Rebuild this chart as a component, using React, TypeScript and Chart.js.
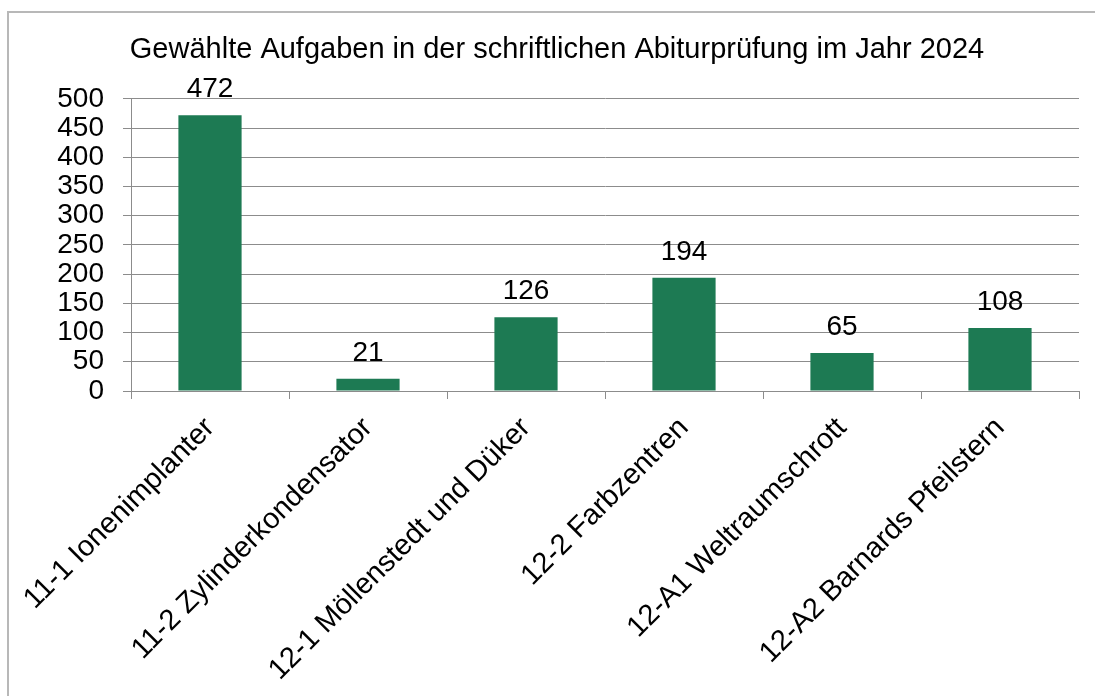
import React, { useEffect, useRef } from "react";
import { Chart, registerables } from "chart.js";

Chart.register(...registerables);

const categories: string[] = [
  "11-1 Ionenimplanter",
  "11-2 Zylinderkondensator",
  "12-1 Möllenstedt und Düker",
  "12-2 Farbzentren",
  "12-A1 Weltraumschrott",
  "12-A2 Barnards Pfeilstern",
];
const values: number[] = [472, 21, 126, 194, 65, 108];
const titleText = "Gewählte Aufgaben in der schriftlichen Abiturprüfung im Jahr 2024";
const yMin = 0;
const yMax = 500;
const yStep = 50;

const FONT = 'Arial, "Liberation Sans", sans-serif';
const BAR_COLOR = "#1d7a53";
const GRID_COLOR = "#8c8c8c";

const valueLabels = {
  id: "valueLabels",
  afterDatasetsDraw(chart: any) {
    const ctx = chart.ctx;
    const meta = chart.getDatasetMeta(0);
    ctx.save();
    ctx.font = `28px ${FONT}`;
    ctx.fillStyle = "#000";
    ctx.textAlign = "center";
    ctx.textBaseline = "alphabetic";
    meta.data.forEach((bar: any, i: number) => {
      ctx.fillText(String(values[i]), bar.x, bar.y - 18);
    });
    ctx.restore();
  },
};

export default function App() {
  const ref = useRef<HTMLCanvasElement | null>(null);

  useEffect(() => {
    if (!ref.current) return;
    const chart = new Chart(ref.current, {
      type: "bar",
      data: {
        labels: categories,
        datasets: [
          {
            data: values,
            backgroundColor: BAR_COLOR,
            borderWidth: 0,
            categoryPercentage: 1,
            barPercentage: 0.4,
          },
        ],
      },
      options: {
        responsive: false,
        animation: false,
        layout: { padding: { left: 35, right: 16, top: 0, bottom: 0 } },
        plugins: {
          legend: { display: false },
          tooltip: { enabled: false },
          title: {
            display: true,
            text: titleText,
            color: "#000",
            font: { family: FONT, size: 29, weight: "normal" },
            padding: { top: 33, bottom: 31 },
          },
        },
        scales: {
          x: {
            offset: true,
            grid: {
              offset: true,
              drawOnChartArea: false,
              drawTicks: true,
              tickLength: 8,
              color: GRID_COLOR,
            },
            border: { display: true, color: GRID_COLOR, width: 1 },
            ticks: {
              color: "#000",
              font: { family: FONT, size: 29 },
              minRotation: 45,
              maxRotation: 45,
              autoSkip: false,
              padding: 12,
            },
            afterFit(scale: any) {
              scale.height = 305;
              scale.paddingLeft = 0;
              scale.paddingRight = 0;
            },
          },
          y: {
            min: yMin,
            max: yMax,
            grid: {
              color: GRID_COLOR,
              drawTicks: true,
              tickLength: 8,
            },
            border: { display: true, color: GRID_COLOR, width: 1 },
            ticks: {
              stepSize: yStep,
              autoSkip: false,
              color: "#000",
              font: { family: FONT, size: 28 },
              padding: 19,
            },
            afterFit(scale: any) {
              scale.width = 96;
            },
          },
        },
      },
      plugins: [valueLabels],
    });
    return () => chart.destroy();
  }, []);

  return (
    <div
      style={{
        position: "fixed",
        left: 0,
        top: 0,
        width: 1095,
        height: 696,
        overflow: "hidden",
        background: "#fff",
      }}
    >
      <div
        style={{
          position: "absolute",
          left: 7,
          top: 11,
          width: 1300,
          height: 900,
          border: "2px solid #b8b8b8",
          boxSizing: "border-box",
        }}
      />
      <canvas
        ref={ref}
        width={1095}
        height={696}
        style={{ position: "absolute", left: 0, top: 0, width: 1095, height: 696 }}
      />
    </div>
  );
}
